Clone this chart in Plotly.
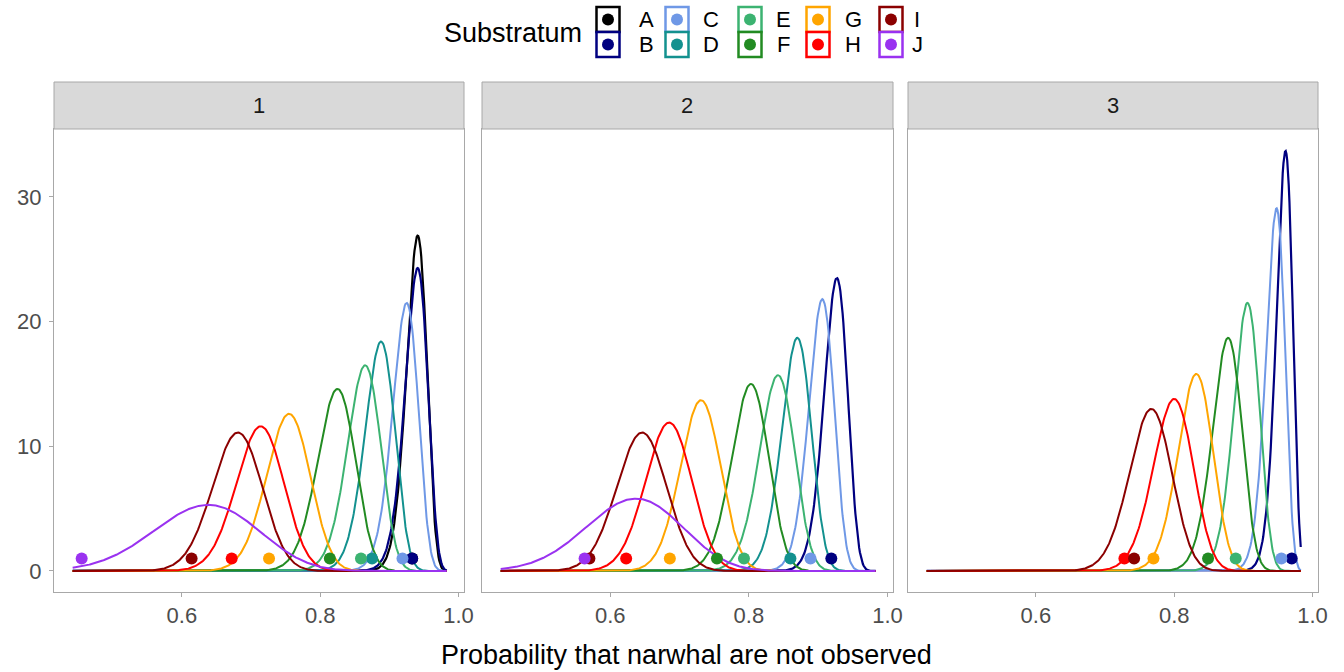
import math
import numpy as np
import plotly.graph_objects as go

# ---- data -------------------------------------------------------------
substrata = ["A", "B", "C", "D", "E", "F", "G", "H", "I", "J"]
panels = ["1", "2", "3"]
line_colors = ["#000000", "#000080", "#6f98e6", "#13918f", "#3cb371",
               "#228b22", "#ffa500", "#ff0000", "#8b0000", "#9a32f0"]

# mode and peak density of each posterior curve, per panel (None = absent)
peak_at_1 = [0.941, 0.941, 0.925, 0.888, 0.865, 0.825, 0.755, 0.714, 0.681, 0.638]
peak_height_1 = [26.9, 24.3, 21.5, 18.4, 16.5, 14.6, 12.6, 11.6, 11.1, 5.3]
peak_at_2 = [None, 0.927, 0.906, 0.870, 0.842, 0.803, 0.731, 0.685, 0.646, 0.637]
peak_height_2 = [None, 23.5, 21.8, 18.7, 15.7, 15.0, 13.7, 11.9, 11.1, 5.8]
peak_at_3 = [None, 0.961, 0.948, None, 0.906, 0.878, 0.832, 0.800, 0.767, None]
peak_height_3 = [None, 33.7, 29.1, None, 21.5, 18.7, 15.8, 13.8, 13.0, None]

# observed proportions, drawn as points
observed_1 = [0.933, 0.933, 0.919, 0.875, 0.859, 0.814, 0.726, 0.672, 0.614, 0.455]
observed_2 = [None, 0.919, 0.889, 0.860, 0.793, 0.754, 0.686, 0.623, 0.570, 0.563]
observed_3 = [None, 0.970, 0.955, None, 0.889, 0.849, 0.770, 0.728, 0.742, None]
observed_level = 1.0

# probability grid over which the densities are evaluated
grid_lo, grid_hi = 0.442, 0.983

x_ticks = [0.6, 0.8, 1.0]
y_ticks = [0, 10, 20, 30]

peak_at = [peak_at_1, peak_at_2, peak_at_3]
peak_height = [peak_height_1, peak_height_2, peak_height_3]
observed = [observed_1, observed_2, observed_3]


def beta_shapes(mode, height):
    """Beta(a, b) with the given mode whose density at the mode equals height."""
    lo, hi = 1e-3, 1e6
    a = b = 1.0
    for _ in range(200):
        c = math.sqrt(lo * hi)
        a = 1 + mode * c
        b = 1 + (1 - mode) * c
        lbeta = math.lgamma(a) + math.lgamma(b) - math.lgamma(a + b)
        f = math.exp((a - 1) * math.log(mode) + (b - 1) * math.log(1 - mode) - lbeta)
        if f < height:
            lo = c
        else:
            hi = c
    return a, b


def beta_pdf(x, a, b):
    lbeta = math.lgamma(a) + math.lgamma(b) - math.lgamma(a + b)
    return np.exp((a - 1) * np.log(x) + (b - 1) * np.log(1 - x) - lbeta)


# ---- layout geometry (pixels) ----------------------------------------
W, H = 1344, 672
L, R, T, B = 54, 26, 129, 80
PW, PH = W - L - R, H - T - B
panel_px = [(54, 464), (482, 893), (908, 1318)]
domains = [[(a - L) / PW, (b - L) / PW] for a, b in panel_px]


def px_x(px):
    return (px - L) / PW


def px_y(py):
    return (H - B - py) / PH


FONT = "Liberation Sans, Arial, sans-serif"
BORDER = "#a8a8a8"

fig = go.Figure()
grid = np.linspace(grid_lo, grid_hi, 500)

for p in range(3):
    xa = "x" if p == 0 else f"x{p + 1}"
    ya = "y" if p == 0 else f"y{p + 1}"
    for i, s in enumerate(substrata):
        m, h = peak_at[p][i], peak_height[p][i]
        if m is None:
            continue
        a, b = beta_shapes(m, h)
        fig.add_trace(go.Scatter(
            x=grid, y=beta_pdf(grid, a, b), mode="lines", name=s,
            line=dict(color=line_colors[i], width=2.2 if i < 2 else 2),
            xaxis=xa, yaxis=ya, showlegend=False, hoverinfo="skip"))
    for i, s in enumerate(substrata):
        v = observed[p][i]
        if v is None:
            continue
        fig.add_trace(go.Scatter(
            x=[v], y=[observed_level], mode="markers", name=s,
            marker=dict(color=line_colors[i], size=12),
            xaxis=xa, yaxis=ya, showlegend=False))

axis_common = dict(
    range=[0.415, 1.008], tickvals=x_ticks, ticktext=[f"{t:.1f}" for t in x_ticks],
    showgrid=False, zeroline=False, showline=True, mirror=True,
    linecolor=BORDER, linewidth=1, ticks="outside", ticklen=4, tickcolor=BORDER,
    tickfont=dict(family=FONT, size=22, color="#4d4d4d"),
)
yaxis_common = dict(
    range=[-1.69, 35.45], tickvals=y_ticks, showgrid=False, zeroline=False,
    showline=True, mirror=True, linecolor=BORDER, linewidth=1,
    tickfont=dict(family=FONT, size=22, color="#4d4d4d"),
)

layout = dict(
    width=W, height=H, margin=dict(l=L, r=R, t=T, b=B),
    paper_bgcolor="white", plot_bgcolor="white", showlegend=False,
)
for p in range(3):
    sx = "" if p == 0 else str(p + 1)
    layout[f"xaxis{sx}"] = dict(axis_common, domain=domains[p],
                                anchor="y" if p == 0 else f"y{p + 1}")
    yax = dict(yaxis_common, domain=[0, 1], anchor="x" if p == 0 else f"x{p + 1}")
    if p == 0:
        yax.update(ticks="outside", ticklen=4, tickcolor=BORDER, ticklabelstandoff=3)
    else:
        yax.update(showticklabels=False, ticks="", matches="y")
    layout[f"yaxis{sx}"] = yax
fig.update_layout(**layout)

shapes, annots = [], []
# facet strips
strip_top = px_y(82)
for p, lab in enumerate(panels):
    shapes.append(dict(type="rect", xref="paper", yref="paper",
                       x0=domains[p][0], x1=domains[p][1], y0=1, y1=strip_top,
                       fillcolor="#d9d9d9", line=dict(color=BORDER, width=1)))
    annots.append(dict(text=lab, xref="paper", yref="paper",
                       x=(domains[p][0] + domains[p][1]) / 2, y=(1 + strip_top) / 2,
                       showarrow=False, xanchor="center", yanchor="middle",
                       font=dict(family=FONT, size=22, color="#1a1a1a")))

# x axis title
annots.append(dict(text="Probability that narwhal are not observed",
                   xref="paper", yref="paper", x=0.5, y=px_y(655),
                   showarrow=False, xanchor="center", yanchor="middle",
                   font=dict(family=FONT, size=27, color="black")))

# legend: title plus a 2-row grid of keys
annots.append(dict(text="Substratum", xref="paper", yref="paper",
                   x=px_x(442), y=px_y(33), showarrow=False,
                   xanchor="left", yanchor="middle",
                   font=dict(family=FONT, size=27, color="black")))
key_cx = [608, 677, 750, 818, 891]
label_cx = [646, 711, 783, 853, 917]
row_cy = [19.5, 44.5]
key_w, key_h, dot_d = 23, 25, 12
for i, s in enumerate(substrata):
    col, row = i // 2, i % 2
    cx, cy = key_cx[col], row_cy[row]
    shapes.append(dict(type="rect", xref="paper", yref="paper",
                       x0=px_x(cx - key_w / 2), x1=px_x(cx + key_w / 2),
                       y0=px_y(cy + key_h / 2), y1=px_y(cy - key_h / 2),
                       fillcolor="white", line=dict(color=line_colors[i], width=2.5)))
    shapes.append(dict(type="circle", xref="paper", yref="paper",
                       x0=px_x(cx - dot_d / 2), x1=px_x(cx + dot_d / 2),
                       y0=px_y(cy + dot_d / 2), y1=px_y(cy - dot_d / 2),
                       fillcolor=line_colors[i], line=dict(width=0)))
    annots.append(dict(text=s, xref="paper", yref="paper",
                       x=px_x(label_cx[col]), y=px_y(cy), showarrow=False,
                       xanchor="center", yanchor="middle",
                       font=dict(family=FONT, size=22, color="black")))

fig.update_layout(shapes=shapes, annotations=annots)
fig.write_html("out.html")
